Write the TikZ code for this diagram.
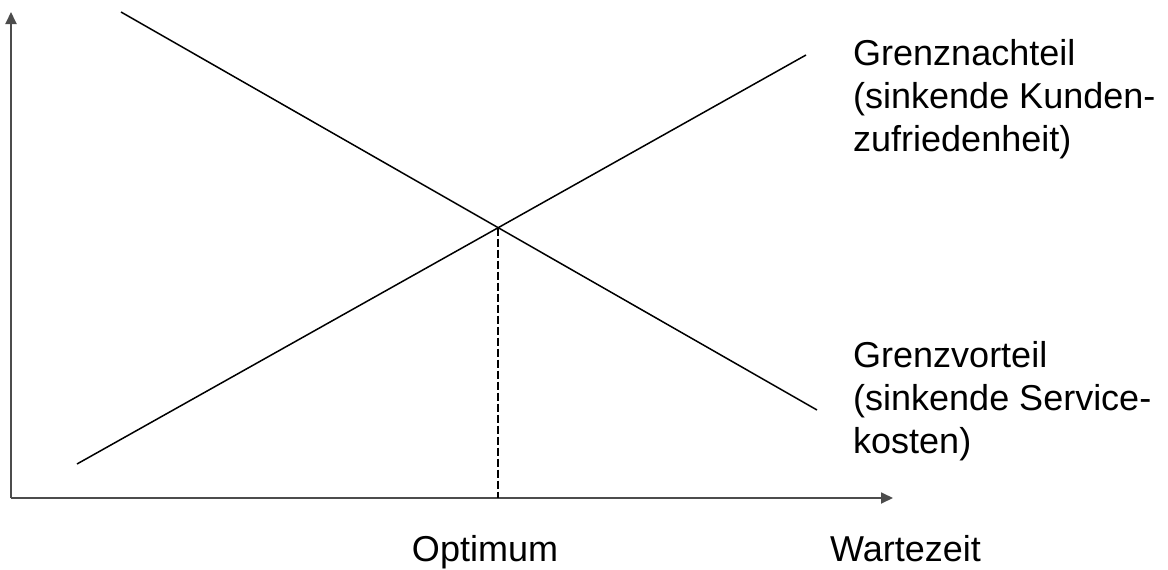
\documentclass[tikz,border=0pt]{standalone}
\usepackage{fontspec}
\setmainfont{Liberation Sans}
\usetikzlibrary{arrows.meta}
\begin{document}
\begin{tikzpicture}[x=1pt, y=-1pt, >={Triangle[length=12pt,width=11pt]},
    every node/.style={inner sep=0pt, align=left, font=\fontsize{36}{43}\selectfont},
    axis/.style={line width=1.8pt, black!70},
    curve/.style={line width=1.5pt},
    guide/.style={line width=1.4pt, dash pattern=on 8pt off 3pt}]
\useasboundingbox (0,0) rectangle (1168,570);
\coordinate (O) at (11,498);
\coordinate (Ytop) at (11,12);
\coordinate (Xend) at (893,498);
\coordinate (N1) at (121,12);
\coordinate (N2) at (817,410);
\coordinate (V1) at (77,464);
\coordinate (V2) at (806,55);
\coordinate (S) at (intersection of N1--N2 and V1--V2);
% axes
\draw[axis, ->] (O) -- (Ytop);
\draw[axis, ->] (O) -- (Xend);
% marginal curves
\draw[curve] (N1) -- (N2);
\draw[curve] (V1) -- (V2);
\draw[guide] (S) -- (S |- O);
% labels (base = last line)
\node (nachteil) [anchor=base west] at (853,151) {Grenznachteil\\(sinkende Kunden-\\zufriedenheit)};
\node (vorteil) [anchor=base west] at (853,453) {Grenzvorteil\\(sinkende Service-\\kosten)};
\node (optimum) [anchor=base] at (485,561) {Optimum};
\node (wartezeit) [anchor=base west] at (830,561) {Wartezeit};
\end{tikzpicture}
\end{document}
